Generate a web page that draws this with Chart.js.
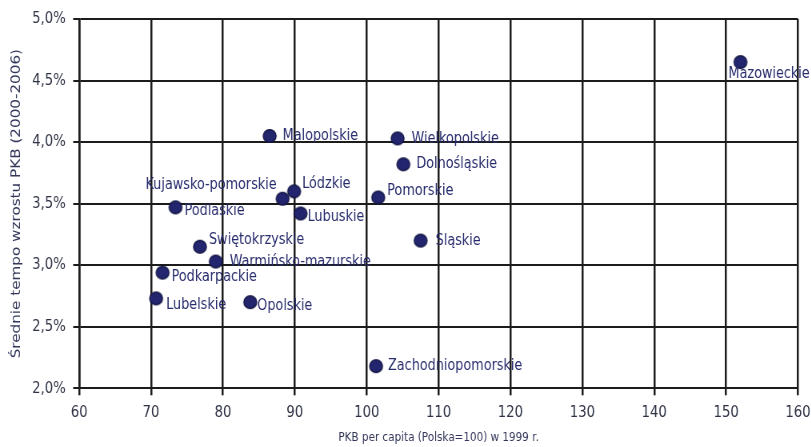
<!DOCTYPE html>
<html>
<head>
<meta charset="utf-8">
<script src="https://cdn.jsdelivr.net/npm/chart.js@4"></script>
<style>
  html, body { margin: 0; padding: 0; background: #fff; overflow: hidden; width: 811px; height: 447px; }
  /* the chart is laid out wider and narrowed horizontally to give the tall, narrow lettering */
  #wrap { position: absolute; left: 0; top: 0; width: 1014px; height: 447px; transform: scaleX(0.8); transform-origin: 0 0; }
</style>
</head>
<body>
<div id="wrap"><canvas id="chart"></canvas></div>
<script>
// Voivodeships: GDP per capita in 1999 (Poland = 100) vs. average GDP growth 2000-2006 (%)
const regions = [
  'Mazowieckie', 'Malopolskie', 'Wielkopolskie', 'Dolnośląskie', 'Pomorskie', 'Sląskie',
  'Lubuskie', 'Lódzkie', 'Kujawsko-pomorskie', 'Podlaskie', 'Swiętokrzyskie',
  'Warmińsko-mazurskie', 'Podkarpackie', 'Lubelskie', 'Opolskie', 'Zachodniopomorskie'
];
const gdpPerCapita1999 = [152.0, 86.5, 104.3, 105.1, 101.6, 107.5, 90.8, 89.9, 88.3, 73.4, 76.8, 79.0, 71.6, 70.7, 83.8, 101.3];
const avgGrowth = [4.65, 4.05, 4.03, 3.82, 3.55, 3.20, 3.42, 3.60, 3.54, 3.47, 3.15, 3.03, 2.94, 2.73, 2.70, 2.18];

const xTicks = [60, 70, 80, 90, 100, 110, 120, 130, 140, 150, 160];
const xTickLabels = ['60', '70', '80', '90', '100', '110', '120', '130', '140', '150', '160'];
const yTicks = [2.0, 2.5, 3.0, 3.5, 4.0, 4.5, 5.0];
const yTickLabels = ['2,0%', '2,5%', '3,0%', '3,5%', '4,0%', '4,5%', '5,0%'];

const SQUEEZE = 0.8;
const FONT = '"DejaVu Sans", Verdana, sans-serif';
const INK = '#1c1c1c';

// where each name sits relative to its dot (screen pixels)
const labelPlacement = {
  'Mazowieckie':         { align: 'left',  dx: -12, dy: 12 },
  'Malopolskie':         { align: 'left',  dx: 13,  dy: 0 },
  'Wielkopolskie':       { align: 'left',  dx: 14,  dy: 0 },
  'Dolnośląskie':        { align: 'left',  dx: 13,  dy: 0 },
  'Pomorskie':           { align: 'left',  dx: 9,   dy: -7 },
  'Sląskie':             { align: 'left',  dx: 15,  dy: 0 },
  'Lubuskie':            { align: 'left',  dx: 7,   dy: 3 },
  'Lódzkie':             { align: 'left',  dx: 8,   dy: -7 },
  'Kujawsko-pomorskie':  { align: 'right', dx: -6,  dy: -14 },
  'Podlaskie':           { align: 'left',  dx: 9,   dy: 4 },
  'Swiętokrzyskie':      { align: 'left',  dx: 9,   dy: -7 },
  'Warmińsko-mazurskie': { align: 'left',  dx: 14,  dy: 0 },
  'Podkarpackie':        { align: 'left',  dx: 9,   dy: 4 },
  'Lubelskie':           { align: 'left',  dx: 10,  dy: 6 },
  'Opolskie':            { align: 'left',  dx: 7,   dy: 4 },
  'Zachodniopomorskie':  { align: 'left',  dx: 12,  dy: 0 }
};

// dot drawn pre-widened so it stays round after the horizontal narrowing
function makeDot() {
  const rx = 7 / SQUEEZE, ry = 7;
  const c = document.createElement('canvas');
  c.width = 20; c.height = 16;
  const g = c.getContext('2d');
  g.beginPath();
  g.ellipse(c.width / 2, c.height / 2, rx - 0.6, ry - 0.6, 0, 0, Math.PI * 2);
  g.fillStyle = '#23266e';
  g.fill();
  g.lineWidth = 1.2;
  g.strokeStyle = '#11133f';
  g.stroke();
  return c;
}

const pointLabels = {
  id: 'pointLabels',
  afterDatasetsDraw(chart) {
    const ctx = chart.ctx;
    const meta = chart.getDatasetMeta(0);
    ctx.save();
    ctx.font = '16px ' + FONT;
    ctx.fillStyle = '#282c6c';
    ctx.textBaseline = 'middle';
    meta.data.forEach((pt, i) => {
      const p = labelPlacement[regions[i]];
      ctx.textAlign = p.align;
      ctx.fillText(regions[i], pt.x + p.dx / SQUEEZE, pt.y + p.dy);
    });
    ctx.restore();
  }
};

new Chart(document.getElementById('chart'), {
  type: 'scatter',
  data: {
    datasets: [{
      data: regions.map((r, i) => ({ x: gdpPerCapita1999[i], y: avgGrowth[i] })),
      pointStyle: makeDot(),
      pointRadius: 7,
      pointHoverRadius: 7
    }]
  },
  options: {
    responsive: true,
    maintainAspectRatio: false,
    animation: false,
    events: [],
    layout: { padding: { top: 19, right: 16.5, bottom: 0, left: 0 } },
    plugins: { legend: { display: false }, tooltip: { enabled: false } },
    scales: {
      x: {
        type: 'linear',
        min: 60, max: 160,
        afterBuildTicks: s => { s.ticks = xTicks.map(v => ({ value: v })); },
        afterFit: s => { s.height = 447 - 388.3; s.paddingLeft = 0; s.paddingRight = 0; },
        ticks: {
          callback: (v, i) => xTickLabels[i],
          autoSkip: false, maxRotation: 0,
          font: { family: FONT, size: 16.5 },
          color: '#2e3244',
          padding: 8
        },
        grid: { color: INK, lineWidth: 2.5, tickLength: 7 },
        border: { color: INK, width: 2 },
        title: {
          display: true,
          text: 'PKB per capita (Polska=100) w 1999 r.',
          font: { family: FONT, size: 13 },
          color: '#33375a',
          padding: { top: 0, bottom: 2 }
        }
      },
      y: {
        type: 'linear',
        min: 2, max: 5,
        afterBuildTicks: s => { s.ticks = yTicks.map(v => ({ value: v })); },
        afterFit: s => { s.width = 99; s.paddingTop = 0; s.paddingBottom = 0; },
        ticks: {
          callback: (v, i) => yTickLabels[i],
          autoSkip: false,
          font: { family: FONT, size: 16.5 },
          color: '#2e3244',
          padding: 9.4
        },
        grid: { color: INK, lineWidth: 2, tickLength: 7.5 },
        border: { color: INK, width: 2.5 },
        title: {
          display: true,
          text: 'Średnie tempo wzrostu PKB (2000-2006)',
          font: { family: FONT, size: 15.2 },
          color: '#33375a',
          padding: { top: 12, bottom: 0 }
        }
      }
    }
  },
  plugins: [pointLabels]
});
</script>
</body>
</html>
